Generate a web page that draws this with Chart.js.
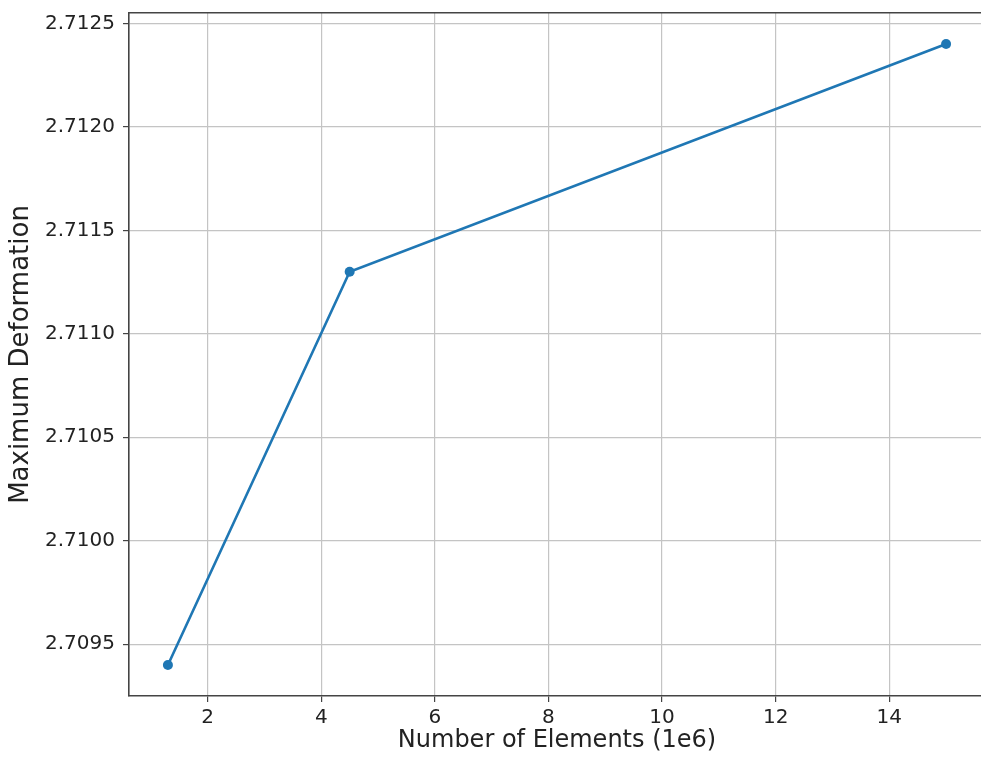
<!DOCTYPE html>
<html>
<head>
<meta charset="utf-8">
<script src="https://cdn.jsdelivr.net/npm/chart.js@4"></script>
<style>
  html, body { margin: 0; padding: 0; background: #fff; overflow: hidden; }
  #wrap { width: 990px; height: 758px; }
</style>
</head>
<body>
<div id="wrap"><canvas id="deformation_line"></canvas></div>
<script>
const elements = [1.3, 4.5, 15];
const maxDeformation = [2.7094, 2.7113, 2.7124];
const xTicks = [2, 4, 6, 8, 10, 12, 14];
const yTicks = [2.7095, 2.7100, 2.7105, 2.7110, 2.7115, 2.7120, 2.7125];

const deformation_line = document.getElementById('deformation_line');

function drawLineDeformation(el){
  if(!el) return;

  const data = {
    datasets: [{
      label: 'Maximum Deformation',
      data: elements.map((x, i) => ({x: x, y: maxDeformation[i]})),
      borderColor: '#1f77b4',
      backgroundColor: '#1f77b4',
      borderWidth: 2.6,
      pointRadius: 5,
      pointBorderWidth: 0,
      tension: 0
    }]
  };

  const font = {family: 'DejaVu Sans', size: 20};

  const config = {
    type: 'line',
    data: data,
    options: {
      responsive: true,
      maintainAspectRatio: false,
      animation: false,
      layout: { padding: { left: 0, right: 1, top: 0, bottom: 0 } },
      scales: {
        x: {
          type: 'linear',
          min: 0.615,
          max: 15.685,
          afterFit: (s) => { s.height = 62; s.paddingLeft = 0; s.paddingRight = 0; },
          afterBuildTicks: (s) => { s.ticks = xTicks.map(v => ({value: v})); },
          grid: { color: '#c4c4c4', lineWidth: 1.2, tickLength: 6, tickColor: '#444' },
          border: { color: '#444', width: 1.6 },
          ticks: { font: font, color: '#222', padding: 4, maxRotation: 0 },
          title: {
            display: true,
            text: 'Number of Elements (1e6)',
            font: {family: 'DejaVu Sans', size: 24},
            color: '#222',
            padding: { top: 0, bottom: 3 }
          }
        },
        top: {
          type: 'linear',
          position: 'top',
          min: 0.615,
          max: 15.685,
          afterFit: (s) => { s.height = 13; },
          grid: { display: false },
          border: { display: true, color: '#444', width: 1.6 },
          ticks: { display: false }
        },
        y: {
          min: 2.70925,
          max: 2.71255,
          afterFit: (s) => { s.width = 129; s.paddingTop = 0; s.paddingBottom = 0; },
          afterBuildTicks: (s) => { s.ticks = yTicks.map(v => ({value: v})); },
          grid: { color: '#c4c4c4', lineWidth: 1.2, tickLength: 6, tickColor: '#444' },
          border: { color: '#444', width: 1.6 },
          ticks: {
            font: font,
            color: '#222',
            padding: 8,
            callback: (v) => Number(v).toFixed(4)
          },
          title: {
            display: true,
            text: 'Maximum Deformation',
            font: {family: 'DejaVu Sans', size: 26},
            color: '#222',
            padding: { top: 6, bottom: 0 }
          }
        }
      },
      plugins: {
        legend: { display: false },
        title: { display: false },
        tooltip: { enabled: false }
      }
    }
  };

  new Chart(el, config);
}

drawLineDeformation(deformation_line);
</script>
</body>
</html>
